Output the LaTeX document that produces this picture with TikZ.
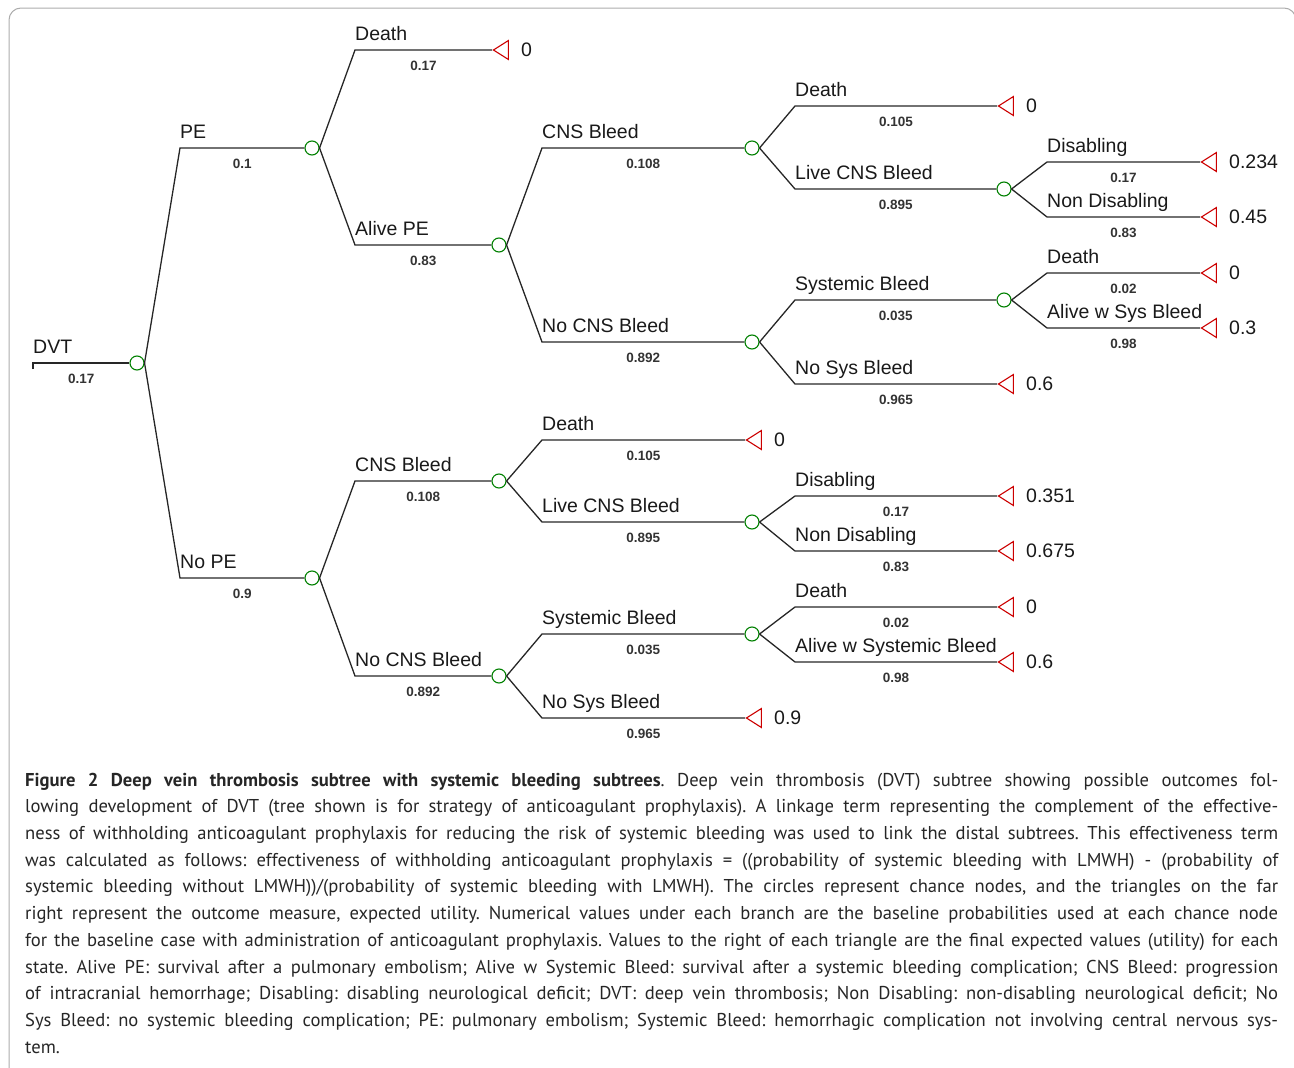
\documentclass[tikz,border=0pt]{standalone}
\usepackage{fontspec}
\setmainfont{Liberation Sans}
\newfontfamily\capfont{PT Sans}
\usepackage{tikz}
\usetikzlibrary{shapes.geometric,positioning,calc}

\begin{document}
\begin{tikzpicture}[x=1pt,y=-1pt,
    branch/.style={line width=1.3pt, black!85},
    chance/.style={draw=green!50!black, circle, line width=1.1pt, minimum size=14pt, inner sep=0pt},
    payoff/.style={draw=red!80!black, isosceles triangle, shape border rotate=180, isosceles triangle stretches,
        minimum width=19pt, minimum height=15pt, inner sep=0pt, line width=1.1pt, anchor=apex},
    lab/.style={font=\fontsize{19.5}{20}\selectfont, text=black!90, inner sep=0pt, anchor=base west},
    prob/.style={font=\bfseries\fontsize{13.5}{14}\selectfont, text=black!80, inner sep=0pt, anchor=base},
    val/.style={font=\fontsize{19.5}{20}\selectfont, text=black!90, inner sep=0pt, anchor=west}]
    \useasboundingbox (0,0) rectangle (1294,1068);

    % frame
    \draw[gray!65, line width=1pt, rounded corners=12pt] (9,1100) -- (9,8) -- (1296,8) -- (1296,1100);

    % chance nodes
    \node[chance] (c0) at (137,363) {};
    \node[chance] (c1) at (312,148) {};
    \node[chance] (c2) at (312,578) {};
    \node[chance] (c3) at (499,245) {};
    \node[chance] (c4) at (752,148) {};
    \node[chance] (c5) at (752,342) {};
    \node[chance] (c6) at (1004,189) {};
    \node[chance] (c7) at (1004,300) {};
    \node[chance] (c8) at (499,481) {};
    \node[chance] (c9) at (499,676) {};
    \node[chance] (c10) at (752,522) {};
    \node[chance] (c11) at (752,634) {};

    % terminal nodes
    \node[payoff] (t1) at (492,50) {};
    \node[payoff] (t2) at (997,106) {};
    \node[payoff] (t3) at (1200,162) {};
    \node[payoff] (t4) at (1200,217) {};
    \node[payoff] (t5) at (1200,273) {};
    \node[payoff] (t6) at (1200,328) {};
    \node[payoff] (t7) at (997,384) {};
    \node[payoff] (t8) at (745,440) {};
    \node[payoff] (t9) at (997,496) {};
    \node[payoff] (t10) at (997,551) {};
    \node[payoff] (t11) at (997,607) {};
    \node[payoff] (t12) at (997,662) {};
    \node[payoff] (t13) at (745,718) {};

    % branch corners
    \coordinate (b0) at (33,363);
    \coordinate (b1) at (180,148);
    \coordinate (b2) at (180,578);
    \coordinate (b3) at (355,50);
    \coordinate (b4) at (355,245);
    \coordinate (b5) at (542,148);
    \coordinate (b6) at (542,342);
    \coordinate (b7) at (795,106);
    \coordinate (b8) at (795,189);
    \coordinate (b9) at (1047,162);
    \coordinate (b10) at (1047,217);
    \coordinate (b11) at (795,300);
    \coordinate (b12) at (795,384);
    \coordinate (b13) at (1047,273);
    \coordinate (b14) at (1047,328);
    \coordinate (b15) at (355,481);
    \coordinate (b16) at (355,676);
    \coordinate (b17) at (542,440);
    \coordinate (b18) at (542,522);
    \coordinate (b19) at (795,496);
    \coordinate (b20) at (795,551);
    \coordinate (b21) at (542,634);
    \coordinate (b22) at (542,718);
    \coordinate (b23) at (795,607);
    \coordinate (b24) at (795,662);

    % root branch
    \draw[branch] (b0) ++(0,6) -- (b0) -- (c0.west);
    \node[lab] (l-b0) at ($(b0)+(0,-9.5)$) {DVT};
    \node[prob] (q-b0) at ($(b0)!0.5!(c0.west)+(0,20)$) {0.17};

    % branches: parent / corner / child / label / probability
    \foreach \p/\b/\c/\l/\q in {c0/b1/c1/PE/0.1, c0/b2/c2/No PE/0.9,
        c1/b3/t1/Death/0.17, c1/b4/c3/Alive PE/0.83,
        c3/b5/c4/CNS Bleed/0.108, c3/b6/c5/No CNS Bleed/0.892,
        c4/b7/t2/Death/0.105, c4/b8/c6/Live CNS Bleed/0.895,
        c6/b9/t3/Disabling/0.17, c6/b10/t4/Non Disabling/0.83,
        c5/b11/c7/Systemic Bleed/0.035, c5/b12/t7/No Sys Bleed/0.965,
        c7/b13/t5/Death/0.02, c7/b14/t6/Alive w Sys Bleed/0.98,
        c2/b15/c8/CNS Bleed/0.108, c2/b16/c9/No CNS Bleed/0.892,
        c8/b17/t8/Death/0.105, c8/b18/c10/Live CNS Bleed/0.895,
        c10/b19/t9/Disabling/0.17, c10/b20/t10/Non Disabling/0.83,
        c9/b21/c11/Systemic Bleed/0.035, c9/b22/t13/No Sys Bleed/0.965,
        c11/b23/t11/Death/0.02, c11/b24/t12/Alive w Systemic Bleed/0.98} {
        \draw[branch] (\p.east) -- (\b) -- (\c.west);
        \node[lab] (l-\b) at ($(\b)+(0,-9.5)$) {\l};
        \node[prob] (q-\b) at ($(\b)!0.5!(\c.west)+(0,20)$) {\q};
    }

    % expected values
    \foreach \t/\v in {t1/0, t2/0, t3/0.234, t4/0.45, t5/0, t6/0.3, t7/0.6,
        t8/0, t9/0.351, t10/0.675, t11/0, t12/0.6, t13/0.9}
        \node[val, right=12pt of \t] (v-\t) {\v};

    % caption
    \node[inner sep=0pt, anchor=north west, text width=1253pt, text=black!85,
        font=\capfont\fontsize{18.6}{26.7}\selectfont] (caption) at (25,767.3) {%
\frenchspacing\spaceskip=4.4pt plus 20pt minus 1.6pt\xspaceskip=\spaceskip
\hbox to1253pt{\strut{\bfseries Figure 2 Deep vein thrombosis subtree with systemic bleeding subtrees}. Deep vein thrombosis (DVT) subtree showing possible outcomes fol-}
\hbox to1253pt{\strut lowing development of DVT (tree shown is for strategy of anticoagulant prophylaxis). A linkage term representing the complement of the effective-}
\hbox to1253pt{\strut ness of withholding anticoagulant prophylaxis for reducing the risk of systemic bleeding was used to link the distal subtrees. This effectiveness term}
\hbox to1253pt{\strut was calculated as follows: effectiveness of withholding anticoagulant prophylaxis = ((probability of systemic bleeding with LMWH) - (probability of}
\hbox to1253pt{\strut systemic bleeding without LMWH))/(probability of systemic bleeding with LMWH). The circles represent chance nodes, and the triangles on the far}
\hbox to1253pt{\strut right represent the outcome measure, expected utility. Numerical values under each branch are the baseline probabilities used at each chance node}
\hbox to1253pt{\strut for the baseline case with administration of anticoagulant prophylaxis. Values to the right of each triangle are the final expected values (utility) for each}
\hbox to1253pt{\strut state. Alive PE: survival after a pulmonary embolism; Alive w Systemic Bleed: survival after a systemic bleeding complication; CNS Bleed: progression}
\hbox to1253pt{\strut of intracranial hemorrhage; Disabling: disabling neurological deficit; DVT: deep vein thrombosis; Non Disabling: non-disabling neurological deficit; No}
\hbox to1253pt{\strut Sys Bleed: no systemic bleeding complication; PE: pulmonary embolism; Systemic Bleed: hemorrhagic complication not involving central nervous sys-}
\hbox to1253pt{\strut tem.\hskip 0pt plus 1fill}};
\end{tikzpicture}
\end{document}
